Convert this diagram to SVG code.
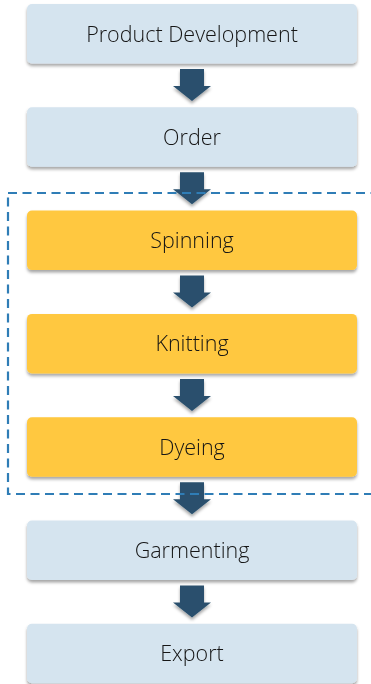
<svg xmlns="http://www.w3.org/2000/svg" width="371" height="684" viewBox="0 0 371 684">
<defs>
<filter id="sh" x="-10%" y="-20%" width="120%" height="150%">
<feDropShadow dx="0" dy="2.5" stdDeviation="1.8" flood-color="#000" flood-opacity="0.35"/>
</filter>
<path id="arr" d="M-12,0 H12 V17 H19 L0,32 L-19,17 H-12 Z"/>
</defs>
<style>
.blue{fill:#d5e4ef}
.yel{fill:#ffc83f}
.lbl{font-family:"Open Sans","Noto Sans",sans-serif;font-weight:300;font-size:21.5px;fill:#141414;text-anchor:middle;dominant-baseline:central}
.ar{fill:#29506d;filter:url(#sh)}
</style>
<g id="n1" filter="url(#sh)"><rect class="blue" x="27" y="4" width="330" height="59.5" rx="5"/><text class="lbl" x="192" y="33">Product Development</text></g>
<g id="n2" filter="url(#sh)"><rect class="blue" x="27" y="107.3" width="330" height="59.5" rx="5"/><text class="lbl" x="192" y="136.3">Order</text></g>
<g id="n3" filter="url(#sh)"><rect class="yel" x="27" y="210.6" width="330" height="59.5" rx="5"/><text class="lbl" x="192" y="239.6">Spinning</text></g>
<g id="n4" filter="url(#sh)"><rect class="yel" x="27" y="313.9" width="330" height="59.5" rx="5"/><text class="lbl" x="192" y="342.9">Knitting</text></g>
<g id="n5" filter="url(#sh)"><rect class="yel" x="27" y="417.2" width="330" height="59.5" rx="5"/><text class="lbl" x="192" y="446.2">Dyeing</text></g>
<g id="n6" filter="url(#sh)"><rect class="blue" x="27" y="520.5" width="330" height="59.5" rx="5"/><text class="lbl" x="192" y="549.5">Garmenting</text></g>
<g id="n7" filter="url(#sh)"><rect class="blue" x="27" y="623.8" width="330" height="59.5" rx="5"/><text class="lbl" x="192" y="652.8">Export</text></g>
<g id="connectors">
<use href="#arr" class="ar" x="192" y="69"/>
<use href="#arr" class="ar" x="192" y="172.3"/>
<use href="#arr" class="ar" x="192" y="275.6"/>
<use href="#arr" class="ar" x="192" y="378.9"/>
<use href="#arr" class="ar" x="192" y="482.2"/>
<use href="#arr" class="ar" x="192" y="585.5"/>
</g>
<g id="group-frame"><rect x="8" y="193" width="380" height="301" fill="none" stroke="#2f7db6" stroke-width="2.2" stroke-dasharray="9,5.5"/></g>
</svg>
